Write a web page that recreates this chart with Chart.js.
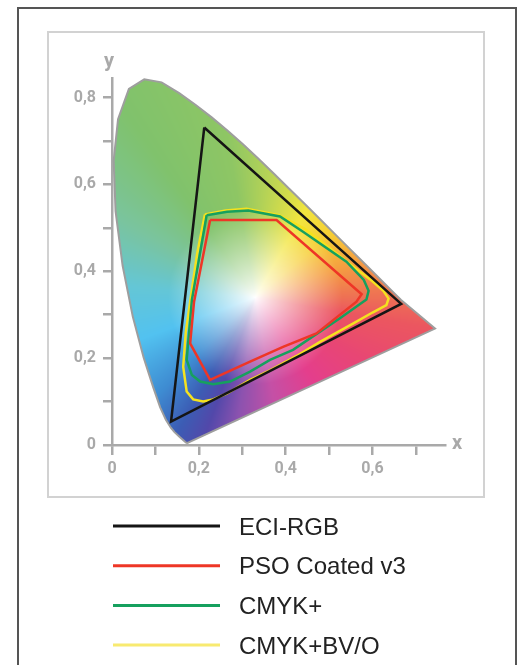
<!DOCTYPE html>
<html>
<head>
<meta charset="utf-8">
<script src="https://cdn.jsdelivr.net/npm/chart.js@4.4.0/dist/chart.umd.min.js"></script>
<style>
  html, body { margin: 0; padding: 0; background: #fff; }
  #wrap { position: relative; width: 523px; height: 665px; overflow: hidden; }
  #frame { position: absolute; left: 17px; top: 7px; width: 500px; height: 720px; border: 2px solid #555; box-sizing: border-box; }
  #panel { position: absolute; left: 47px; top: 31px; width: 438px; height: 467px; border: 2px solid #d2d2d2; box-sizing: border-box; }
  #chart { position: absolute; left: 0; top: 0; }
</style>
</head>
<body>
<div id="wrap">
  <div id="frame"></div>
  <div id="panel"></div>
  <canvas id="chart" width="523" height="665"></canvas>
</div>
<script>
// spectral locus (CIE 1931 xy), closed by the purple line
const locusX = [0.1741, 0.1733, 0.1714, 0.1689, 0.1644, 0.1566, 0.1440, 0.1355, 0.1241, 0.1110, 0.0950, 0.0730, 0.0480, 0.0245, 0.0082, 0.0039, 0.0139, 0.0389, 0.0743, 0.1142, 0.1547, 0.1929, 0.2296, 0.2658, 0.3016, 0.3373, 0.3731, 0.4087, 0.4441, 0.4788, 0.5125, 0.5448, 0.5752, 0.6029, 0.6270, 0.6482, 0.6658, 0.7440, 0.1741];
const locusY = [0.0050, 0.0048, 0.0051, 0.0069, 0.0109, 0.0177, 0.0297, 0.0399, 0.0578, 0.0868, 0.1327, 0.2007, 0.2950, 0.4127, 0.5384, 0.6548, 0.7502, 0.8200, 0.8420, 0.8350, 0.8100, 0.7830, 0.7543, 0.7243, 0.6923, 0.6589, 0.6245, 0.5896, 0.5547, 0.5202, 0.4866, 0.4544, 0.4242, 0.3965, 0.3725, 0.3514, 0.3340, 0.2680, 0.0050];

// gamuts
const eciX = [0.2125, 0.666, 0.136, 0.2125];
const eciY = [0.731, 0.325, 0.054, 0.731];

const psoX = [0.226, 0.379, 0.575, 0.563, 0.471, 0.394, 0.318, 0.226, 0.180, 0.189, 0.226];
const psoY = [0.518, 0.518, 0.347, 0.330, 0.257, 0.226, 0.192, 0.150, 0.234, 0.330, 0.518];

const cmykX = [0.218, 0.265, 0.314, 0.387, 0.440, 0.540, 0.580, 0.591, 0.586, 0.525, 0.479, 0.417, 0.364, 0.318, 0.272, 0.233, 0.203, 0.184, 0.172, 0.184, 0.218];
const cmykY = [0.529, 0.537, 0.540, 0.526, 0.491, 0.422, 0.380, 0.355, 0.335, 0.292, 0.261, 0.219, 0.196, 0.169, 0.146, 0.140, 0.146, 0.161, 0.196, 0.334, 0.529];

const bvoX = [0.214, 0.262, 0.310, 0.385, 0.445, 0.550, 0.600, 0.625, 0.637, 0.632, 0.600, 0.556, 0.480, 0.425, 0.364, 0.318, 0.264, 0.230, 0.210, 0.187, 0.172, 0.164, 0.170, 0.180, 0.196, 0.214];
const bvoY = [0.531, 0.540, 0.544, 0.529, 0.497, 0.415, 0.377, 0.355, 0.337, 0.322, 0.305, 0.280, 0.238, 0.205, 0.172, 0.150, 0.118, 0.104, 0.100, 0.105, 0.123, 0.180, 0.260, 0.330, 0.440, 0.531];

const seriesLabels = ['ECI-RGB', 'PSO Coated v3', 'CMYK+', 'CMYK+BV/O'];

const xTickValues = [0, 0.2, 0.4, 0.6];
const xTickLabels = ['0', '0,2', '0,4', '0,6'];
const yTickValues = [0, 0.2, 0.4, 0.6, 0.8];
const yTickLabels = ['0', '0,2', '0,4', '0,6', '0,8'];
const axisNames = ['x', 'y'];

const axisGray = '#a9a9a9';
const tickFont = { family: 'Roboto, "DejaVu Sans", sans-serif', weight: 'bold', size: 16 };

const toPts = (xs, ys) => xs.map((v, i) => ({ x: v, y: ys[i] }));

function pickLabel(values, labels) {
    return (v) => {
        const i = values.findIndex(t => Math.abs(t - v) < 1e-6);
        return i < 0 ? '' : labels[i];
    };
}

// hue ring around the white point, used to paint the horseshoe
const hueStops = [
    [0, 238, 112, 84], [20, 245, 160, 64], [40, 246, 206, 52], [60, 242, 229, 62],
    [80, 192, 214, 82], [100, 142, 198, 100], [125, 128, 194, 108], [150, 122, 196, 158],
    [175, 100, 198, 214], [200, 82, 194, 240], [225, 62, 140, 210], [240, 60, 92, 180],
    [250, 82, 72, 170], [262, 140, 82, 175], [280, 196, 80, 166], [305, 228, 62, 140],
    [330, 232, 70, 116], [350, 235, 86, 96], [360, 238, 112, 84]
];

function chromaColor(cx, cy) {
    const dx = cx - 0.33, dy = cy - 0.34;
    let ang = Math.atan2(dy, dx) * 180 / Math.PI;
    if (ang < 0) ang += 360;
    let k = 0;
    while (k < hueStops.length - 2 && hueStops[k + 1][0] < ang) k++;
    const a = hueStops[k], b = hueStops[k + 1];
    const f = (ang - a[0]) / (b[0] - a[0]);
    const t = Math.min(1, Math.pow(Math.hypot(dx, dy) / 0.2, 0.85));
    const mix = (j) => 255 + ((a[j] + (b[j] - a[j]) * f) - 255) * t;
    return [mix(1), mix(2), mix(3)];
}

const chromaFill = {
    id: 'chromaFill',
    beforeDatasetsDraw(chart) {
        const { ctx, chartArea: a, scales } = chart;
        const sx = scales.x, sy = scales.y;
        if (!this.img) {
            const w = Math.ceil(a.right - a.left), h = Math.ceil(a.bottom - a.top);
            const off = document.createElement('canvas');
            off.width = w; off.height = h;
            const octx = off.getContext('2d');
            const im = octx.createImageData(w, h);
            for (let j = 0; j < h; j++) {
                const cy = sy.getValueForPixel(a.top + j + 0.5);
                for (let i = 0; i < w; i++) {
                    const c = chromaColor(sx.getValueForPixel(a.left + i + 0.5), cy);
                    const p = (j * w + i) * 4;
                    im.data[p] = c[0]; im.data[p + 1] = c[1]; im.data[p + 2] = c[2]; im.data[p + 3] = 255;
                }
            }
            octx.putImageData(im, 0, 0);
            this.img = off;
        }
        const pts = chart.data.datasets.find(d => d.locus).data;
        ctx.save();
        ctx.beginPath();
        pts.forEach((p, k) => {
            const px = sx.getPixelForValue(p.x), py = sy.getPixelForValue(p.y);
            if (k === 0) ctx.moveTo(px, py); else ctx.lineTo(px, py);
        });
        ctx.closePath();
        ctx.clip();
        ctx.drawImage(this.img, a.left, a.top);
        ctx.restore();
    }
};

const axisLetters = {
    id: 'axisLetters',
    afterDraw(chart) {
        const { ctx, scales } = chart;
        ctx.save();
        ctx.fillStyle = axisGray;
        ctx.font = 'bold 20px Roboto, "DejaVu Sans", sans-serif';
        ctx.textAlign = 'center';
        ctx.textBaseline = 'middle';
        ctx.fillText(axisNames[0], scales.x.right + 12, scales.y.bottom - 1);
        ctx.fillText(axisNames[1], scales.x.left - 3, scales.y.top - 16);
        ctx.restore();
    }
};

const lineLegend = {
    id: 'lineLegend',
    afterDraw(chart) {
        const ctx = chart.ctx;
        ctx.save();
        ctx.font = '24px "Liberation Sans", Arial, sans-serif';
        ctx.fillStyle = '#222';
        ctx.textBaseline = 'middle';
        chart.data.datasets.filter(d => !d.locus).forEach((d, i) => {
            const yy = 526 + i * 39.7;
            ctx.strokeStyle = d.legendColor || d.borderColor;
            ctx.lineWidth = 3;
            ctx.beginPath();
            ctx.moveTo(113, yy);
            ctx.lineTo(220, yy);
            ctx.stroke();
            ctx.fillText(d.label, 239, yy + 2);
        });
        ctx.restore();
    }
};

const lineSet = (label, xs, ys, color, width) => ({
    label: label,
    data: toPts(xs, ys),
    showLine: true,
    fill: false,
    borderColor: color,
    borderWidth: width,
    pointRadius: 0,
    tension: 0
});

const ctx = document.getElementById('chart').getContext('2d');
const chart = new Chart(ctx, {
    type: 'scatter',
    data: {
        datasets: [
            lineSet(seriesLabels[0], eciX, eciY, '#151515', 2.5),
            lineSet(seriesLabels[1], psoX, psoY, '#ee3626', 2.5),
            lineSet(seriesLabels[2], cmykX, cmykY, '#16a05e', 2.5),
            Object.assign(lineSet(seriesLabels[3], bvoX, bvoY, '#f5e21e', 2.5), { legendColor: '#f8ea70' }),
            Object.assign(lineSet('locus', locusX, locusY, '#9e9e9e', 2), { locus: true })
        ]
    },
    options: {
        responsive: false,
        animation: false,
        layout: { padding: { left: 52, right: 78, top: 78, bottom: 180 } },
        plugins: { legend: { display: false }, tooltip: { enabled: false } },
        scales: {
            x: {
                type: 'linear',
                min: 0,
                max: 0.767,
                afterFit: (s) => { s.height = 40; },
                border: { display: true, color: axisGray, width: 2.5 },
                grid: { display: true, drawOnChartArea: false, drawTicks: true, tickLength: 10, tickColor: axisGray, tickWidth: 2.5, lineWidth: 2.5 },
                ticks: { stepSize: 0.1, includeBounds: false, autoSkip: false, maxRotation: 0, padding: 4, color: axisGray, font: tickFont, callback: pickLabel(xTickValues, xTickLabels) }
            },
            y: {
                type: 'linear',
                min: 0,
                max: 0.845,
                afterFit: (s) => { s.width = 60; },
                border: { display: true, color: axisGray, width: 2.5 },
                grid: { display: true, drawOnChartArea: false, drawTicks: true, tickLength: 9, tickColor: axisGray, tickWidth: 2.5, lineWidth: 2.5 },
                ticks: { stepSize: 0.1, includeBounds: false, autoSkip: false, padding: 7, color: axisGray, font: tickFont, callback: pickLabel(yTickValues, yTickLabels) }
            }
        }
    },
    plugins: [chromaFill, axisLetters, lineLegend]
});
</script>
</body>
</html>
